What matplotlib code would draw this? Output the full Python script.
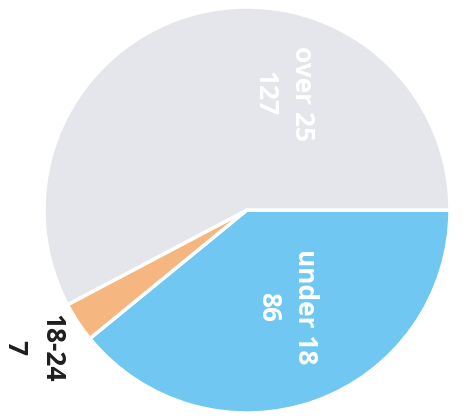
import matplotlib.pyplot as plt

# pie data
categories = ["under 18", "18-24", "over 25"]
counts = [86, 7, 127]
colors = ["#70c7f2", "#f6b67f", "#e5e6eb"]
label_colors = ["white", "#1e1e1e", "white"]
# where each label block sits (data units, pie radius = 1)
label_pos = [(0.197, -0.478), (-1.052, -0.680), (0.182, 0.576)]

fig = plt.figure(figsize=(4.63, 4.17), dpi=100)
ax = fig.add_axes([0, 0, 1, 1])

ax.pie(counts, colors=colors, startangle=0, counterclock=False,
       radius=1, center=(0, 0),
       wedgeprops=dict(edgecolor="white", linewidth=2.5))

for name, val, pos, col in zip(categories, counts, label_pos, label_colors):
    ax.text(pos[0], pos[1], name + "\n" + str(val), rotation=-90,
            ha="center", va="center", multialignment="center",
            fontsize=19, fontweight="bold", color=col,
            family=["Open Sans", "DejaVu Sans"], linespacing=1.5)

ax.set_xlim(-1.2167, 1.064)
ax.set_ylim(-1.0197, 1.0345)
ax.set_aspect("equal")
ax.axis("off")

fig.savefig("out.png", dpi=100)
